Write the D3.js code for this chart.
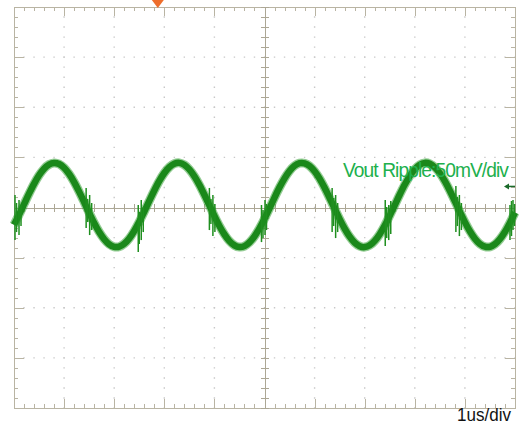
<!DOCTYPE html>
<html lang="en">
    <head>
        <meta charset="utf-8">
        <title>Vout ripple</title>
        <script type="text/javascript" src="https://cdn.jsdelivr.net/npm/d3@7/dist/d3.min.js"></script>
        <style type="text/css">
            body { margin: 0; background: #fff; }
            .frame path, .frame line,
            .center path, .center line {
                fill: none;
                stroke: #b9b4a3;
                stroke-width: 1;
                shape-rendering: crispEdges;
            }
            .center path, .center line { stroke: #aca795; }
            .grid line {
                stroke: #c8c8c8;
                stroke-width: 1.4;
            }
        </style>
    </head>
    <body>
        <script type="text/javascript">
            // time axis in us (1us/div), voltage in mV (50mV/div)
            var timeStart = -5, timeStep = 0.1;
            // Vout ripple, one sample every 0.1us
            var rippleMv = [
                -17.3, -7.3, 3.3, 13.8, 23.6, 32.1, 38.7, 42.9, 44.5, 43.4,
                39.7, 33.5, 25.4, 15.8, 5.4, -5.3, -15.4, -24.4, -31.6, -36.7,
                -39.2, -39.1, -36.2, -30.9, -23.4, -14.3, -4.0, 6.6, 17.0, 26.5,
                34.4, 40.3, 43.7, 44.5, 42.5, 38.0, 31.2, 22.6, 12.7, 2.1,
                -8.5, -18.4, -26.8, -33.5, -37.8, -39.5, -38.5, -34.8, -28.8, -20.7,
                -11.2, -0.8, 9.9, 20.1, 29.1, 36.4, 41.6, 44.2, 44.1, 41.4,
                36.2, 28.8, 19.6, 9.4, -1.2, -11.6, -21.1, -29.1, -35.1, -38.6,
                -39.5, -37.7, -33.3, -26.6, -18.0, -8.1, 2.4, 13.0, 22.9, 31.5,
                38.2, 42.6, 44.5, 43.6, 40.1, 34.2, 26.2, 16.7, 6.3, -4.3,
                -14.6, -23.7, -31.1, -36.4, -39.1, -39.2, -36.6, -31.5, -24.2, -15.1,
                -5.0
            ];
            // switching noise bursts: time (us), top and bottom (mV)
            var spikeTime = [-4.98, -4.95, -4.90, -4.86, -3.56, -3.53, -3.49, -3.45, -2.52, -2.50, -2.46, -2.42,
                             -1.10, -1.07, -1.03, -0.99, -0.06, -0.03, 0.01, 0.04,
                             1.35, 1.38, 1.42, 1.46, 2.41, 2.44, 2.48, 2.52, 3.82, 3.85, 3.89, 3.93,
                             4.90, 4.93, 4.96, 4.99];
            var spikeTop = [12.5, 4.5, 7.5, 2.5, 19.5, 8.5, 12.5, 4.5, 2.5, -4.5, 7.5, 0.5,
                            19.5, 8.5, 12.5, 3.5, 2.5, -2.5, 7.5, 3.5,
                            19.5, 9.5, 12.5, 4.5, 7.5, 0.5, 2.5, 6.5, 21.5, 10.5, 12.5, 4.5,
                            2.5, 6.5, 7.5, 3.5];
            var spikeBottom = [-32.5, -24.5, -27.5, -18.5, -20.5, -14.5, -27.5, -22.5, -44.5, -36.5, -32.5, -24.5,
                               -22.5, -16.5, -28.5, -24.5, -34.5, -30.5, -27.5, -22.5,
                               -24.5, -18.5, -30.5, -24.5, -38.5, -30.5, -32.5, -26.5, -24.5, -18.5, -28.5, -22.5,
                               -32.5, -28.5, -22.5, -18.5];
            var channelLevel = 21;     // mV, channel marker on the right edge
            var triggerTime = -2.13;   // us, orange marker on top
            var channelLabel = "Vout Ripple:50mV/div";
            var timebaseLabel = "1us/div";

            var width = 522, height = 425;
            var x = d3.scaleLinear().domain([-5, 5]).range([14, 515]);
            var y = d3.scaleLinear().domain([-200, 200]).range([408, 7]);

            var svg = d3.select("body").append("svg")
                .attr("width", width)
                .attr("height", height);

            var majorT = d3.range(-5, 5.001, 1);
            var majorV = d3.range(-200, 200.001, 50);
            var minorT = d3.range(-5, 5.001, 0.2);
            var minorV = d3.range(-200, 200.001, 10);

            // dotted graticule
            var grid = svg.append("g").attr("class", "grid");
            grid.selectAll(".vg")
                .data(majorT.filter(function(d) { return d != 0 && Math.abs(d) != 5; }))
                .enter().append("line")
                    .attr("x1", function(d) { return x(d); })
                    .attr("x2", function(d) { return x(d); })
                    .attr("y1", y(200)).attr("y2", y(-200))
                    .attr("stroke-dasharray", "1.4," + (y(190) - y(200) - 1.4))
                    .attr("stroke-dashoffset", 0.7);
            grid.selectAll(".hg")
                .data(majorV.filter(function(d) { return d != 0 && Math.abs(d) != 200; }))
                .enter().append("line")
                    .attr("y1", function(d) { return y(d); })
                    .attr("y2", function(d) { return y(d); })
                    .attr("x1", x(-5)).attr("x2", x(5))
                    .attr("stroke-dasharray", "1.4," + (x(0.2) - x(0) - 1.4))
                    .attr("stroke-dashoffset", 0.7);

            function noLabel() { return ""; }

            // frame with inward ticks
            function frameAxis(axis, tx, ty, values, size, keepDomain) {
                var g = svg.append("g")
                    .attr("class", "frame")
                    .attr("transform", "translate(" + tx + "," + ty + ")")
                    .call(axis.tickValues(values).tickSizeInner(size).tickSizeOuter(0).tickFormat(noLabel));
                if (!keepDomain) g.select(".domain").remove();
            }
            frameAxis(d3.axisBottom(x), 0, y(200), minorT, 4, true);
            frameAxis(d3.axisBottom(x), 0, y(200), majorT, 9, false);
            frameAxis(d3.axisTop(x), 0, y(-200), minorT, 4, true);
            frameAxis(d3.axisTop(x), 0, y(-200), majorT, 9, false);
            frameAxis(d3.axisRight(y), x(-5), 0, minorV, 4, true);
            frameAxis(d3.axisRight(y), x(-5), 0, majorV, 10, false);
            frameAxis(d3.axisLeft(y), x(5), 0, minorV, 4, true);
            frameAxis(d3.axisLeft(y), x(5), 0, majorV, 10, false);

            // centre cross with ticks on both sides
            function centerAxis(axis, tx, ty, values) {
                svg.append("g")
                    .attr("class", "center")
                    .attr("transform", "translate(" + tx + "," + ty + ")")
                    .call(axis.tickValues(values).tickSizeInner(4).tickSizeOuter(0).tickFormat(noLabel));
            }
            centerAxis(d3.axisBottom(x), 0, y(0), minorT);
            centerAxis(d3.axisTop(x), 0, y(0), minorT);
            centerAxis(d3.axisRight(y), x(0), 0, minorV);
            centerAxis(d3.axisLeft(y), x(0), 0, minorV);

            // trace
            var trace = rippleMv.map(function(v, i) { return [timeStart + i * timeStep, v]; });
            var line = d3.line()
                .x(function(d) { return x(d[0]); })
                .y(function(d) { return y(d[1]); })
                .curve(d3.curveCardinal);

            svg.append("path")
                .datum(trace)
                .attr("fill", "none")
                .attr("stroke", "#3aa33a")
                .attr("stroke-opacity", 0.55)
                .attr("stroke-width", 9)
                .attr("d", line);
            svg.append("path")
                .datum(trace)
                .attr("fill", "none")
                .attr("stroke", "#1a881a")
                .attr("stroke-width", 6.5)
                .attr("d", line);

            svg.append("g").selectAll("line")
                .data(spikeTime)
                .enter().append("line")
                    .attr("x1", function(d) { return x(d); })
                    .attr("x2", function(d) { return x(d); })
                    .attr("y1", function(d, i) { return y(spikeTop[i]); })
                    .attr("y2", function(d, i) { return y(spikeBottom[i]); })
                    .attr("stroke", "#1f8f1f")
                    .attr("stroke-width", 1.5);

            // trigger marker
            svg.append("path")
                .attr("d", "M" + (x(triggerTime) - 6) + ",0L" + (x(triggerTime) + 6) + ",0L" + x(triggerTime) + ",8Z")
                .attr("fill", "#ee6e2c");

            // channel marker arrow
            var cy = y(channelLevel);
            svg.append("line")
                .attr("x1", x(5) - 9).attr("x2", x(5))
                .attr("y1", cy).attr("y2", cy)
                .attr("stroke", "#1a6a2a").attr("stroke-width", 1.5);
            svg.append("path")
                .attr("d", "M" + (x(5) - 11) + "," + cy + "L" + (x(5) - 6) + "," + (cy - 3) + "L" + (x(5) - 6) + "," + (cy + 3) + "Z")
                .attr("fill", "#1a6a2a");

            svg.append("text")
                .attr("x", 343)
                .attr("y", 177)
                .attr("textLength", 165)
                .attr("lengthAdjust", "spacingAndGlyphs")
                .style("font-family", "Liberation Sans, Arial, sans-serif")
                .style("font-size", "21px")
                .style("letter-spacing", "-1px")
                .style("fill", "#20b04c")
                .text(channelLabel);

            svg.append("text")
                .attr("x", 511)
                .attr("y", 421)
                .attr("textLength", 54)
                .attr("lengthAdjust", "spacingAndGlyphs")
                .style("text-anchor", "end")
                .style("font-family", "Liberation Sans, Arial, sans-serif")
                .style("font-size", "18px")
                .style("fill", "#111")
                .text(timebaseLabel);
        </script>
    </body>
</html>
